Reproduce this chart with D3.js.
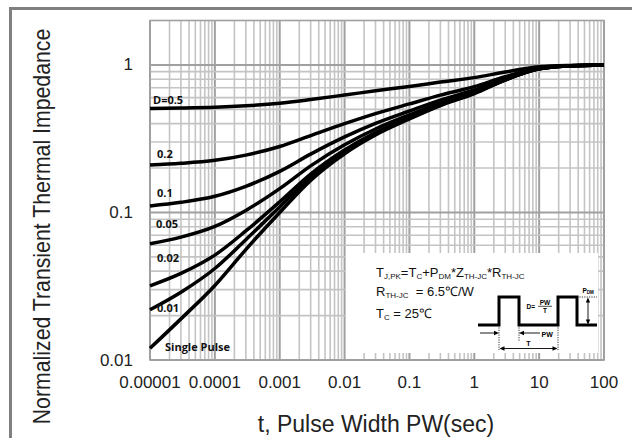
<!DOCTYPE html>
<html lang="en">
<head>
    <meta charset="UTF-8">
    <title>Transient Thermal Impedance</title>
    <style>
        body { margin: 0; background: #fff; }
        text { font-family: "Liberation Sans", Arial, sans-serif; }
        .curve-label { font-family: "Open Sans", sans-serif; font-weight: 700; font-size: 11px; }
        .pre { white-space: pre; }
    </style>
</head>
<body>
<script src="https://cdn.jsdelivr.net/npm/d3@7"></script>
<script>
    // pulse width (sec)
    const times = [1e-5, 3e-5, 1e-4, 3e-4, 1e-3, 3e-3, 0.01, 0.03, 0.1, 0.3, 1, 3, 10, 30, 100];

    // normalized Zth, one array per duty cycle
    const zD05   = [0.506, 0.5095, 0.516, 0.528, 0.55, 0.5825, 0.625, 0.6675, 0.715, 0.765, 0.82, 0.895, 0.97, 0.9925, 1.0];
    const zD02   = [0.2096, 0.2152, 0.2256, 0.2448, 0.28, 0.332, 0.40, 0.468, 0.544, 0.624, 0.712, 0.832, 0.952, 0.988, 1.0];
    const zD01   = [0.1108, 0.1171, 0.1288, 0.1504, 0.19, 0.2485, 0.325, 0.4015, 0.487, 0.577, 0.676, 0.811, 0.946, 0.9865, 1.0];
    const zD005  = [0.0614, 0.068, 0.0804, 0.1032, 0.145, 0.207, 0.2875, 0.368, 0.4585, 0.5535, 0.658, 0.8005, 0.943, 0.986, 1.0];
    const zD002  = [0.0318, 0.0386, 0.0514, 0.0749, 0.118, 0.182, 0.265, 0.348, 0.441, 0.539, 0.647, 0.794, 0.941, 0.985, 1.0];
    const zD001  = [0.0219, 0.0288, 0.0417, 0.0654, 0.109, 0.173, 0.2575, 0.342, 0.436, 0.535, 0.644, 0.792, 0.941, 0.985, 1.0];
    const zSingle = [0.012, 0.019, 0.032, 0.056, 0.10, 0.165, 0.25, 0.335, 0.43, 0.53, 0.64, 0.79, 0.94, 0.985, 1.0];

    const seriesNames = ["D=0.5", "0.2", "0.1", "0.05", "0.02", "0.01", "Single Pulse"];
    const seriesValues = [zD05, zD02, zD01, zD005, zD002, zD001, zSingle];

    const xTicks = [1e-5, 1e-4, 1e-3, 1e-2, 1e-1, 1, 10, 100];
    const xTickLabels = ["0.00001", "0.0001", "0.001", "0.01", "0.1", "1", "10", "100"];
    const yTicks = [0.01, 0.1, 1];
    const yTickLabels = ["0.01", "0.1", "1"];

    const width = 632, height = 438;
    const svg = d3.select("body").append("svg")
        .attr("width", width)
        .attr("height", height);

    svg.append("rect").attr("width", width).attr("height", height).attr("fill", "#fff");

    // outer frame (left + top only are visible)
    svg.append("path")
        .attr("d", "M10.5,438 V8.5 H632")
        .attr("fill", "none")
        .attr("stroke", "#808080")
        .attr("stroke-width", 3);

    const x = d3.scaleLog().domain([1e-5, 100]).range([150, 604]);
    const y = d3.scaleLog().domain([0.01, 2]).range([360, 20.5]);

    // log grid lines
    const grid = svg.append("g");
    const xGrid = [];
    for (let e = -5; e <= 1; e++) for (let m = 1; m <= 9; m++) xGrid.push(m * Math.pow(10, e));
    xGrid.push(100);
    const yGrid = [];
    for (let e = -2; e <= -1; e++) for (let m = 1; m <= 9; m++) yGrid.push(m * Math.pow(10, e));
    yGrid.push(1);

    const isMajor = v => Math.abs(Math.log10(v) - Math.round(Math.log10(v))) < 1e-9;

    grid.selectAll(".vx").data(xGrid).enter().append("line")
        .attr("x1", d => x(d)).attr("x2", d => x(d))
        .attr("y1", y.range()[1]).attr("y2", y.range()[0])
        .attr("stroke", d => isMajor(d) ? "#a0a0a0" : "#c4c4c4")
        .attr("stroke-width", d => isMajor(d) ? 2 : 1.6);

    grid.selectAll(".hy").data(yGrid).enter().append("line")
        .attr("y1", d => y(d)).attr("y2", d => y(d))
        .attr("x1", x.range()[0]).attr("x2", x.range()[1])
        .attr("stroke", d => isMajor(d) ? "#a0a0a0" : "#c4c4c4")
        .attr("stroke-width", d => isMajor(d) ? 2 : 1.6);

    svg.append("rect")
        .attr("x", x.range()[0]).attr("y", y.range()[1])
        .attr("width", x.range()[1] - x.range()[0])
        .attr("height", y.range()[0] - y.range()[1])
        .attr("fill", "none")
        .attr("stroke", "#a0a0a0")
        .attr("stroke-width", 1.6);

    // tick labels
    svg.selectAll(".xlab").data(xTicks).enter().append("text")
        .attr("x", d => x(d))
        .attr("y", 388)
        .attr("text-anchor", "middle")
        .attr("font-size", 17)
        .attr("fill", "#222")
        .text((d, i) => xTickLabels[i]);

    svg.selectAll(".ylab").data(yTicks).enter().append("text")
        .attr("x", 133)
        .attr("y", d => y(d) + 5.5)
        .attr("text-anchor", "end")
        .attr("font-size", 17)
        .attr("fill", "#222")
        .text((d, i) => yTickLabels[i]);

    // axis titles
    svg.append("text")
        .attr("x", 376).attr("y", 432)
        .attr("text-anchor", "middle")
        .attr("font-size", 23)
        .attr("fill", "#222")
        .text("t, Pulse Width PW(sec)");

    svg.append("text")
        .attr("transform", "translate(50,226.5) scale(1,0.925) rotate(-90)")
        .attr("text-anchor", "middle")
        .attr("font-size", 23)
        .attr("fill", "#222")
        .text("Normalized Transient Thermal Impedance");

    // white box behind the formula inset
    svg.append("rect")
        .attr("x", 346).attr("y", 253)
        .attr("width", 252).attr("height", 100)
        .attr("fill", "#fff");

    // curves
    const line = d3.line()
        .x(d => x(d[0]))
        .y(d => y(d[1]))
        .curve(d3.curveMonotoneX);

    svg.append("g").selectAll("path")
        .data(seriesValues)
        .enter().append("path")
        .attr("d", vals => line(times.map((t, i) => [t, vals[i]])))
        .attr("fill", "none")
        .attr("stroke", "#000")
        .attr("stroke-width", 3.5);

    // curve labels, nudged off the start of each curve
    const labelDx = [3, 7, 7, 6, 7, 7, 15];
    const labelDy = [-5, -7, -9, -16, -24, 2, 3];
    svg.selectAll(".curve-label").data(seriesNames).enter().append("text")
        .attr("class", "curve-label")
        .attr("x", (d, i) => x(times[0]) + labelDx[i])
        .attr("y", (d, i) => y(seriesValues[i][0]) + labelDy[i])
        .attr("fill", "#111")
        .text(d => d);

    // formula text
    function richText(px, py, parts) {
        const t = svg.append("text")
            .attr("class", "pre")
            .attr("x", px).attr("y", py)
            .attr("font-size", 13)
            .attr("fill", "#111");
        let sub = false;
        parts.forEach(p => {
            const s = t.append("tspan").text(p[0]);
            if (p[1] && !sub) { s.attr("dy", 2).attr("font-size", 8); sub = true; }
            else if (p[1]) { s.attr("font-size", 8); }
            else if (sub) { s.attr("dy", -2); sub = false; }
        });
    }
    richText(376, 277, [["T", 0], ["J,PK", 1], ["=T", 0], ["C", 1], ["+P", 0], ["DM", 1], ["*Z", 0], ["TH-JC", 1], ["*R", 0], ["TH-JC", 1]]);
    richText(376, 296, [["R", 0], ["TH-JC", 1], ["  = 6.5\u2103/W", 0]]);
    richText(376, 318, [["T", 0], ["C", 1], [" = 25\u2103", 0]]);

    // pulse train sketch
    const ins = svg.append("g");
    ins.append("path")
        .attr("d", "M478,325 H499 V297 H519 V325 H558 V297 H577 V325 H597")
        .attr("fill", "none").attr("stroke", "#000").attr("stroke-width", 3);

    const dotted = [[499, 325, 499, 350], [519, 325, 519, 341], [558, 325, 558, 350], [577, 297, 597, 297]];
    ins.selectAll(".dot").data(dotted).enter().append("line")
        .attr("x1", d => d[0]).attr("y1", d => d[1]).attr("x2", d => d[2]).attr("y2", d => d[3])
        .attr("stroke", "#000").attr("stroke-width", 0.8).attr("stroke-dasharray", "1.2,1.2");

    const thin = [[480, 333, 497, 333], [540, 333, 521, 333], [501, 348.5, 556, 348.5], [588, 299, 588, 323]];
    ins.selectAll(".thin").data(thin).enter().append("line")
        .attr("x1", d => d[0]).attr("y1", d => d[1]).attr("x2", d => d[2]).attr("y2", d => d[3])
        .attr("stroke", "#000").attr("stroke-width", 0.9);

    function head(px, py, dir) {
        const L = 5, W = 2.2;
        let pts;
        if (dir === "r") pts = [[px, py], [px - L, py - W], [px - L, py + W]];
        if (dir === "l") pts = [[px, py], [px + L, py - W], [px + L, py + W]];
        if (dir === "u") pts = [[px, py], [px - W, py + L], [px + W, py + L]];
        if (dir === "d") pts = [[px, py], [px - W, py - L], [px + W, py - L]];
        ins.append("path").attr("d", "M" + pts.join("L") + "Z").attr("fill", "#000");
    }
    head(499, 333, "r");
    head(519, 333, "l");
    head(499.5, 348.5, "l");
    head(557.5, 348.5, "r");
    head(588, 297.5, "u");
    head(588, 324.5, "d");

    const small = ins.append("g")
        .attr("font-family", "Liberation Sans, Arial, sans-serif")
        .attr("font-weight", 700)
        .attr("fill", "#000");
    small.append("text").attr("x", 541.5).attr("y", 336.5).attr("font-size", 7).text("PW");
    small.append("text").attr("x", 528.5).attr("y", 346).attr("font-size", 7).attr("text-anchor", "middle").text("T");
    small.append("text").attr("x", 526.5).attr("y", 309).attr("font-size", 6.5).text("D=");
    small.append("text").attr("x", 545).attr("y", 304.5).attr("font-size", 6.5).attr("text-anchor", "middle").text("PW");
    small.append("line").attr("x1", 538).attr("x2", 552).attr("y1", 306.3).attr("y2", 306.3).attr("stroke", "#000").attr("stroke-width", 0.7);
    small.append("text").attr("x", 545).attr("y", 312.5).attr("font-size", 6.5).attr("text-anchor", "middle").text("T");
    const pdm = small.append("text").attr("x", 582.5).attr("y", 292.5).attr("font-size", 6.5);
    pdm.append("tspan").text("P");
    pdm.append("tspan").attr("font-size", 4.5).attr("dy", 1).text("DM");
</script>
</body>
</html>
